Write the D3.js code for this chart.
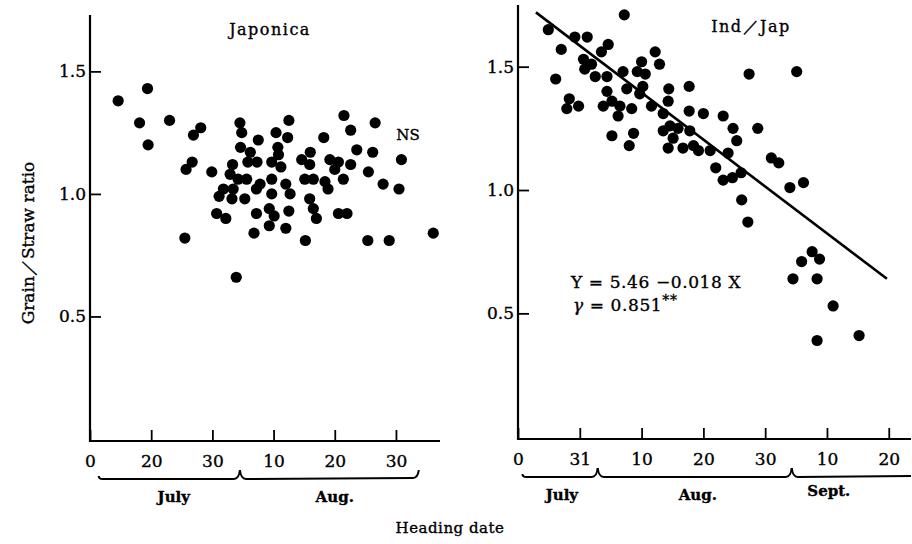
<!DOCTYPE html>
<html>
<head>
<meta charset="utf-8">
<script src="https://cdn.jsdelivr.net/npm/d3@7"></script>
<style>
  body { margin: 0; background: #fff; }
  svg text { font-family: "DejaVu Serif", "Liberation Serif", serif; fill: #000; stroke: #000; stroke-width: 0.35px; }
</style>
</head>
<body>
<div id="chart"></div>
<script>
// x values are in axis units: one tick step = 10 units
const japonica = [
  [4.6,1.38],[9.4,1.43],[8.1,1.29],[9.5,1.20],[13.0,1.30],[16.9,1.24],[18.1,1.27],
  [16.7,1.13],[15.7,1.10],[15.5,0.82],[19.9,1.09],[23.9,0.66],[21.1,0.99],[20.7,0.92],
  [22.2,0.90],[24.5,1.29],[24.8,1.25],[32.5,1.30],[27.5,1.22],[30.4,1.25],[32.3,1.23],
  [38.2,1.23],[24.6,1.19],[26.2,1.17],[27.3,1.13],[25.8,1.13],[30.7,1.19],[30.8,1.16],
  [29.7,1.13],[31.2,1.11],[23.3,1.12],[22.9,1.08],[21.8,1.02],[24.2,1.06],[25.6,1.06],
  [23.4,1.02],[23.2,0.98],[25.3,0.98],[27.8,1.04],[27.2,1.02],[29.7,1.06],[32.0,1.04],
  [32.7,1.00],[29.7,1.00],[27.2,0.92],[29.3,0.94],[30.1,0.91],[32.5,0.93],[29.3,0.87],
  [32.0,0.86],[26.8,0.84],[35.2,0.81],[34.6,1.14],[36.0,1.17],[35.9,1.12],[35.1,1.06],
  [36.5,1.06],[38.4,1.05],[38.9,1.02],[35.9,0.98],[36.5,0.94],[37.0,0.90],[41.5,1.32],
  [42.6,1.26],[46.6,1.29],[43.6,1.18],[46.2,1.17],[50.9,1.14],[39.2,1.14],[40.6,1.13],
  [42.6,1.12],[40.0,1.10],[41.4,1.06],[45.5,1.09],[47.9,1.04],[50.5,1.02],[40.6,0.92],
  [42.0,0.92],[45.4,0.81],[48.9,0.81],[56.1,0.84]
];

const indJap = [
  [17.2,1.71],[4.9,1.65],[9.2,1.62],[11.2,1.62],[7.0,1.57],[14.6,1.59],[13.5,1.56],
  [10.6,1.53],[11.9,1.51],[10.8,1.49],[12.5,1.46],[6.1,1.45],[14.4,1.46],[17.0,1.48],
  [20.0,1.52],[22.9,1.51],[22.2,1.56],[19.3,1.48],[20.6,1.47],[17.6,1.41],[20.2,1.42],
  [19.7,1.39],[24.4,1.41],[27.7,1.42],[37.4,1.47],[45.1,1.48],[8.3,1.37],[7.9,1.33],
  [9.8,1.34],[14.4,1.40],[15.2,1.36],[13.8,1.34],[16.5,1.34],[18.4,1.33],[16.2,1.30],
  [21.6,1.34],[23.5,1.31],[24.3,1.36],[27.7,1.32],[30.0,1.31],[33.2,1.30],[15.2,1.22],
  [18.7,1.23],[18.0,1.18],[23.5,1.24],[24.6,1.26],[25.9,1.25],[27.8,1.24],[25.1,1.21],
  [24.3,1.17],[26.7,1.17],[28.4,1.18],[29.2,1.16],[31.1,1.16],[34.0,1.15],[34.8,1.25],
  [35.4,1.20],[38.8,1.25],[32.0,1.09],[33.2,1.04],[34.7,1.05],[36.1,1.07],[36.2,0.96],
  [37.2,0.87],[41.0,1.13],[42.2,1.11],[44.0,1.01],[46.2,1.03],[47.6,0.75],[48.8,0.72],
  [45.9,0.71],[44.5,0.64],[48.4,0.64],[51.0,0.53],[48.4,0.39],[55.2,0.41]
];

const fitLine = [[2.9, 1.72], [59.7, 0.64]];

const yTicks = [0.5, 1.0, 1.5];
const leftTicks = [0, 10, 20, 30, 40, 50];
const leftTickLabels = ['0', '20', '30', '10', '20', '30'];
const rightTicks = [0, 10, 20, 30, 40, 50, 60];
const rightTickLabels = ['0', '31', '10', '20', '30', '10', '20'];

const leftMonths = [
  {name: 'July', start: 1.1, end: 24.5, label: 13.7},
  {name: 'Aug.', start: 24.5, end: 53.9, label: 40.0}
];
const rightMonths = [
  {name: 'July', start: 0.4, end: 12.9, label: 7.1},
  {name: 'Aug.', start: 12.9, end: 44.3, label: 29.1},
  {name: 'Sept.', start: 44.3, end: 63.6, label: 50.3}
];

const width = 912;
const height = 544;
const dotRadius = 5.6;
const tickLen = 11;

let svg = d3.select('#chart').append('svg')
  .attr('width', width)
  .attr('height', height);

let panel = function (opts) {
  let x = d3.scaleLinear().domain(opts.xDomain).range(opts.xRange);
  let y = d3.scaleLinear().domain(opts.yDomain).range(opts.yRange);
  let g = svg.append('g');

  // axis lines
  g.append('line')
    .attr('x1', opts.xRange[0]).attr('x2', opts.xRange[1])
    .attr('y1', opts.axisY).attr('y2', opts.axisY)
    .attr('stroke', '#000').attr('stroke-width', 2.2)
  g.append('line')
    .attr('x1', opts.xRange[0]).attr('x2', opts.xRange[0])
    .attr('y1', opts.yRange[1]).attr('y2', opts.axisY + 1)
    .attr('stroke', '#000').attr('stroke-width', 2.2)

  let xAxis = g.append('g')
    .attr('transform', `translate(0, ${opts.axisY})`)
    .call(d3.axisBottom(x)
      .tickValues(opts.ticks)
      .tickFormat((d, i) => opts.tickLabels[i])
      .tickSizeInner(-tickLen)
      .tickSizeOuter(0)
      .tickPadding(14))
  xAxis.select('.domain').remove();
  xAxis.selectAll('line').attr('stroke-width', 1.8);
  xAxis.selectAll('text').attr('font-size', 17).attr('font-family', null);

  let yAxis = g.append('g')
    .attr('transform', `translate(${opts.xRange[0]}, 0)`)
    .call(d3.axisLeft(y)
      .tickValues(yTicks)
      .tickFormat(d3.format('.1f'))
      .tickSizeInner(-tickLen)
      .tickSizeOuter(0)
      .tickPadding(4))
  yAxis.select('.domain').remove();
  yAxis.selectAll('line').attr('stroke-width', 1.8);
  yAxis.selectAll('text').attr('font-size', 17).attr('font-family', null);

  // month braces under the axis
  let braceY = opts.axisY + 38;
  let rise = 9;
  opts.months.forEach((m, i) => {
    let x0 = x(m.start) + 2, x1 = x(m.end) - 2;
    let p = d3.path();
    if (i === 0) {
      p.moveTo(x0, braceY - 3);
      p.quadraticCurveTo(x0, braceY, x0 + 4, braceY);
    } else {
      p.moveTo(x0 - 2, braceY - rise);
      p.quadraticCurveTo(x0 - 1, braceY, x0 + 4, braceY);
    }
    if (i === opts.months.length - 1 && opts.closeEnd) {
      p.lineTo(x1 - 5, braceY - 1);
      p.quadraticCurveTo(x1, braceY - 1, x1 + 1, braceY - rise);
    } else if (i === opts.months.length - 1) {
      p.lineTo(x1 + 2, braceY - 1);
    } else {
      p.lineTo(x1 - 4, braceY);
      p.quadraticCurveTo(x1 + 1, braceY, x1 + 2, braceY - rise);
    }
    g.append('path')
      .attr('d', p.toString())
      .attr('fill', 'none')
      .attr('stroke', '#000')
      .attr('stroke-width', 2)

    g.append('text')
      .attr('x', x(m.label))
      .attr('y', opts.axisY + 61 - (m.name === 'Sept.' ? 4 : 0))
      .attr('text-anchor', 'middle')
      .attr('font-size', 15)
      .attr('font-weight', 'bold')
      .text(m.name)
  });

  if (opts.line) {
    g.append('path')
      .datum(opts.line)
      .attr('d', d3.line().x(d => x(d[0])).y(d => y(d[1])))
      .attr('stroke', '#000')
      .attr('stroke-width', 2.6)
      .attr('fill', 'none')
  }

  g.selectAll('circle.dot')
    .data(opts.data)
    .enter().append('circle')
      .classed('dot', true)
      .attr('cx', d => x(d[0]))
      .attr('cy', d => y(d[1]))
      .attr('r', dotRadius)
      .attr('fill', '#000')

  g.append('text')
    .attr('x', opts.titleX)
    .attr('y', opts.titleY)
    .attr('text-anchor', 'middle')
    .attr('font-size', 16)
    .attr('letter-spacing', 1.5)
    .text(opts.title)

  return {g, x, y};
}

let left = panel({
  data: japonica,
  xDomain: [0, 57.2], xRange: [90, 440],
  yDomain: [0, 1.73], yRange: [439, 15],
  axisY: 441,
  ticks: leftTicks, tickLabels: leftTickLabels,
  months: leftMonths, closeEnd: true,
  title: 'Japonica', titleX: 270, titleY: 35
});

let right = panel({
  data: indJap,
  line: fitLine,
  xDomain: [0, 63.6], xRange: [518, 911],
  yDomain: [0, 1.75], yRange: [436.7, 5],
  axisY: 439,
  ticks: rightTicks, tickLabels: rightTickLabels,
  months: rightMonths, closeEnd: false,
  title: 'Ind／Jap', titleX: 751, titleY: 32
});

left.g.append('text')
  .attr('x', 408).attr('y', 140)
  .attr('text-anchor', 'middle')
  .attr('font-size', 15)
  .text('NS')

right.g.append('text')
  .attr('x', 571).attr('y', 288)
  .attr('font-size', 17)
  .attr('letter-spacing', 0.6)
  .text('Y = 5.46 −0.018 X')

let rText = right.g.append('text')
  .attr('x', 573).attr('y', 311)
  .attr('font-size', 17)
  .attr('letter-spacing', 0.6)
rText.append('tspan').attr('font-style', 'italic').text('γ')
rText.append('tspan').text(' = 0.851')
rText.append('tspan').attr('dy', -6).attr('font-size', 14).text('**')

svg.append('text')
  .attr('transform', 'translate(34, 243) rotate(-90)')
  .attr('text-anchor', 'middle')
  .attr('font-size', 17)
  .text('Grain／Straw ratio')

svg.append('text')
  .attr('x', 450).attr('y', 533)
  .attr('text-anchor', 'middle')
  .attr('font-size', 15)
  .attr('letter-spacing', 0.5)
  .text('Heading date')
</script>
</body>
</html>
